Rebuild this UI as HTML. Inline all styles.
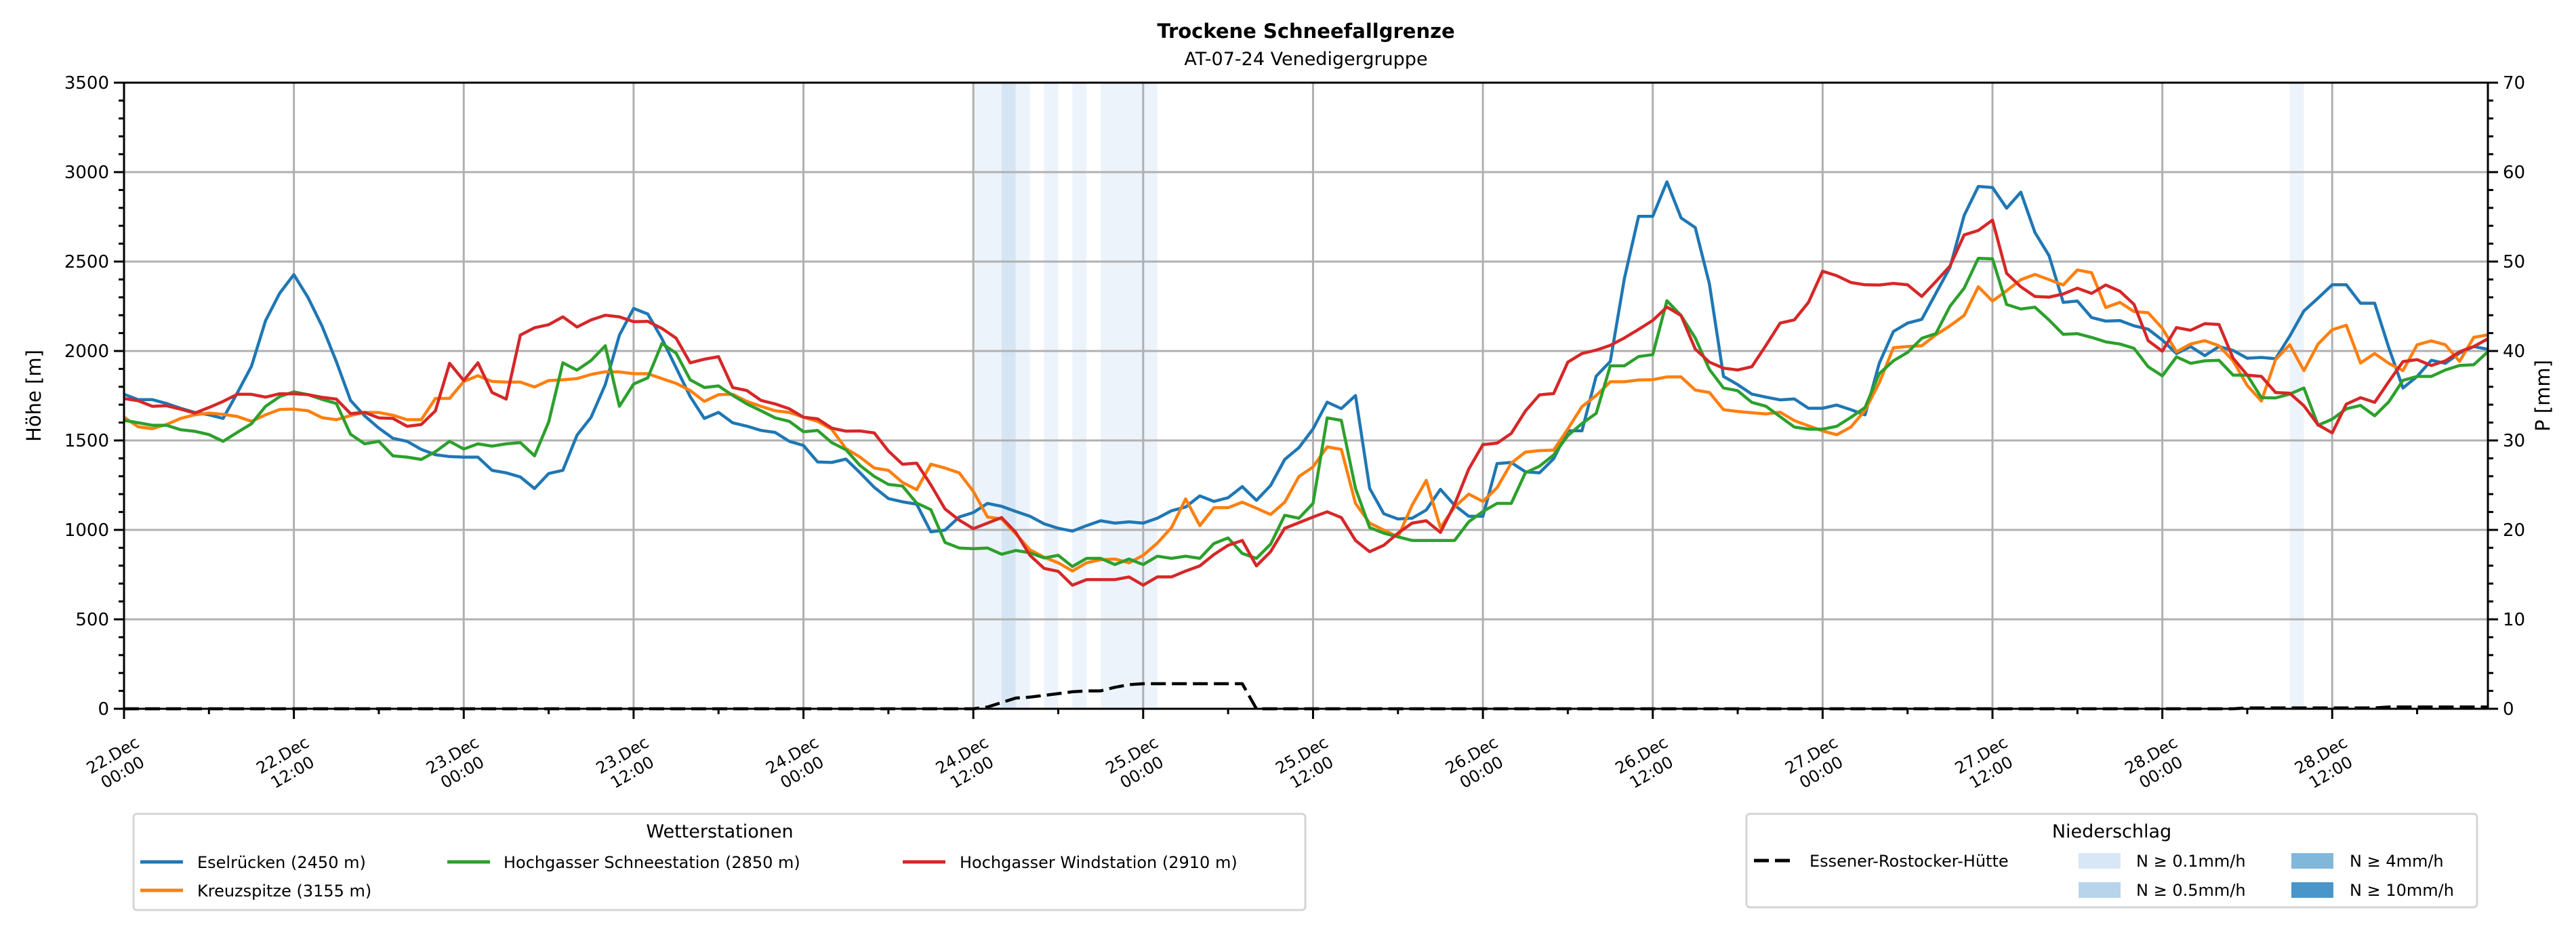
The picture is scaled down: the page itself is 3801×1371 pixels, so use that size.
<!DOCTYPE html>
<html><head><meta charset="utf-8"><style>
html,body{margin:0;padding:0;background:#fff;}
svg{display:block;font-family:"DejaVu Sans","Liberation Sans",sans-serif;}
</style></head><body>
<svg id="chart" width="3801" height="1371" viewBox="0 0 3801 1371" xmlns="http://www.w3.org/2000/svg">
<rect x="0" y="0" width="3801" height="1371" fill="#fff"/>
<text x="1927" y="56" text-anchor="middle" font-size="29" font-weight="bold">Trockene Schneefallgrenze</text>
<text x="1927" y="96" text-anchor="middle" font-size="27">AT-07-24 Venedigergruppe</text>
<g id="bands"></g>
<g id="grid"></g>
<g id="series"></g>
<g id="axes"></g>
<text transform="translate(60,584) rotate(-90)" text-anchor="middle" font-size="29">Höhe [m]</text>
<text transform="translate(3762,584) rotate(-90)" text-anchor="middle" font-size="29">P [mm]</text>

<g>
<rect x="197" y="1201" width="1729" height="142" rx="5" fill="#fff" stroke="#d5d5d5" stroke-width="3"/>
<text x="1062" y="1236" text-anchor="middle" font-size="27">Wetterstationen</text>
<g><line x1="207" y1="1272" x2="270" y2="1272" stroke="#1f77b4" stroke-width="5"/><text x="291" y="1281" font-size="24">Eselrücken (2450 m)</text></g>
<g><line x1="207" y1="1314" x2="270" y2="1314" stroke="#ff7f0e" stroke-width="5"/><text x="291" y="1323" font-size="24">Kreuzspitze (3155 m)</text></g>
<g><line x1="660" y1="1272" x2="723" y2="1272" stroke="#2ca02c" stroke-width="5"/><text x="743" y="1281" font-size="24">Hochgasser Schneestation (2850 m)</text></g>
<g><line x1="1332" y1="1272" x2="1395" y2="1272" stroke="#d62728" stroke-width="5"/><text x="1416" y="1281" font-size="24">Hochgasser Windstation (2910 m)</text></g>
</g>

<g>
<rect x="2577" y="1201" width="1078" height="138" rx="5" fill="#fff" stroke="#d5d5d5" stroke-width="3"/>
<text x="3116" y="1236" text-anchor="middle" font-size="27">Niederschlag</text>
<g><line x1="2588" y1="1270" x2="2645" y2="1270" stroke="#000" stroke-width="5" stroke-dasharray="22 9"/><text x="2670" y="1279" font-size="24">Essener-Rostocker-Hütte</text></g>
<g><rect x="3067" y="1259" width="62" height="23" fill="#d8e7f5"/><text x="3152" y="1279" font-size="24">N ≥ 0.1mm/h</text></g>
<g><rect x="3067" y="1302" width="62" height="23" fill="#b8d4ea"/><text x="3152" y="1322" font-size="24">N ≥ 0.5mm/h</text></g>
<g><rect x="3381" y="1259" width="62" height="23" fill="#82b7dc"/><text x="3467" y="1279" font-size="24">N ≥ 4mm/h</text></g>
<g><rect x="3381" y="1302" width="62" height="23" fill="#4a95c9"/><text x="3467" y="1322" font-size="24">N ≥ 10mm/h</text></g>
</g>
</svg>
<script>
var eselruecken = [1758,1728,1728,1707,1680,1657,1643,1623,1765,1914,2170,2323,2427,2299,2137,1941,1724,1637,1569,1512,1495,1450,1420,1410,1407,1407,1333,1319,1296,1231,1315,1333,1529,1630,1812,2089,2238,2207,2069,
1907,1745,1623,1657,1599,1580,1556,1545,1495,1472,1380,1377,1396,1319,1238,1175,1157,1144,
989,999,1072,1097,1148,1132,1103,1076,1034,1009,993,1024,1051,1038,1045,1038,1065,1107,1128,1190,1159,1180,1242,1165,1248,1394,1460,1564,1714,1678,1751,1232,1090,1061,1065,1111,1227,1138,1076,1076,1371,1377,1325,1319,1398,1554,1554,1859,1942,2406,2753,2753,2946,2744,2690,2375,
1858,1812,1759,1742,1727,1732,1680,1680,1698,1672,1643,1931,2109,2156,2177,2322,2467,2758,2920,2914,2798,2888,2663,2533,2272,2279,2187,2167,2170,2141,2122,2061,1986,2025,1974,2025,2003,1960,1964,1957,2083,2224,2296,2370,2370,2267,2267,2018,1793,1858,1948,1931,1989,2025,2010];
var kreuzspitze = [1630,1576,1566,1589,1623,1643,1653,1646,1634,1607,1643,1673,1675,1666,1627,1616,1639,1657,1656,1641,1616,1616,1735,1735,1830,1862,1830,1826,1826,1799,1835,1839,1846,1869,1884,1883,1873,1873,1846,1819,1779,1718,1756,1758,1718,1691,1666,1657,1630,1607,1562,1454,1407,1346,1333,1265,1225,
1367,1346,1319,1215,1072,1061,978,889,847,816,770,816,833,837,816,858,926,1013,1173,1024,1124,1124,1155,1121,1086,1155,1298,1352,1464,1450,1148,1038,999,961,1138,1277,1013,1128,1200,1159,1236,1373,1435,1443,1446,1564,1689,1751,1828,1828,1838,1840,1855,1855,1782,1768,
1672,1662,1655,1648,1658,1611,1582,1553,1532,1575,1669,1822,2018,2025,2029,2090,2141,2199,2359,2279,2337,2398,2428,2399,2369,2453,2438,2243,2272,2221,2214,2127,1996,2039,2058,2029,1945,1807,1720,1952,2035,1890,2039,2119,2144,1933,1986,1931,1890,2035,2057,2035,1942,2076,2090];
var schneestation = [1612,1599,1585,1585,1560,1551,1533,1495,1545,1593,1691,1745,1772,1756,1729,1707,1535,1481,1495,1414,1407,1394,1437,1495,1452,1481,1468,1481,1488,1414,1603,1934,1893,1947,2029,1691,1815,1850,2042,1988,1839,1796,1805,1752,1704,1666,1626,1607,1549,1556,1488,1448,1360,1299,1254,1245,1150,
1113,930,899,895,899,864,885,872,843,858,795,841,841,806,837,806,853,841,853,841,924,955,868,841,920,1082,1065,1148,1626,1612,1232,1013,982,961,941,941,941,941,1045,1103,1148,1148,1319,1356,1419,1527,1595,1651,1917,1917,1969,1980,2281,2198,2073,1897,
1793,1778,1713,1691,1633,1575,1563,1563,1579,1629,1684,1873,1945,1992,2071,2097,2250,2351,2518,2515,2260,2235,2245,2173,2093,2097,2076,2051,2039,2015,1912,1861,1967,1931,1945,1948,1865,1865,1739,1738,1759,1793,1585,1619,1677,1696,1638,1716,1836,1858,1858,1894,1919,1923,1996];
var windstation = [1734,1722,1691,1694,1675,1653,1684,1718,1758,1758,1742,1761,1761,1756,1741,1731,1650,1657,1626,1623,1579,1589,1666,1931,1835,1934,1768,1731,2089,2130,2147,2191,2134,2174,2200,2191,2164,2166,2126,2072,1934,1954,1968,1796,1779,1724,1704,1677,1630,1621,1569,1552,1553,1542,1441,1367,1373,
1252,1117,1055,1007,1038,1069,986,858,785,768,691,722,722,722,737,691,737,737,770,799,862,914,941,799,878,1009,1040,1072,1101,1069,941,878,914,982,1038,1051,986,1142,1340,1477,1485,1539,1664,1755,1762,1938,1986,2005,2032,2073,2121,2171,2246,2198,2011,1938,
1904,1894,1912,2032,2156,2174,2272,2446,2421,2383,2370,2369,2378,2370,2305,2388,2475,2649,2674,2732,2434,2359,2305,2301,2319,2351,2322,2369,2334,2261,2058,1999,2131,2116,2153,2148,1960,1865,1858,1768,1764,1694,1587,1542,1703,1739,1713,1829,1941,1952,1919,1945,1996,2025,2068];
var precipSum = [0,0,0,0,0,0,0,0,0,0, 0,0,0,0,0,0,0,0,0,0, 0,0,0,0,0,0,0,0,0,0, 0,0,0,0,0,0,0,0,0,0, 0,0,0,0,0,0,0,0,0,0, 0,0,0,0,0,0,0,0,0,0,
0,0.2,0.7,1.2,1.3,1.5,1.7,1.9,2.0,2.0, 2.4,2.7,2.8,2.8,2.8,2.8,2.8,2.8,2.8,2.8, 0,0,0,0,0,0,0,0,0,0, 0,0,0,0,0,0,0,0,0,0,
0,0,0,0,0,0,0,0,0,0, 0,0,0,0,0,0,0,0,0,0, 0,0,0,0,0,0,0,0,0,0, 0,0,0,0,0,0,0,0,0,0, 0,0,0,0,0,0,0,0,0,0,
0.1,0.1,0.1,0.1,0.1,0.1,0.1,0.1,0.1,0.1, 0.2,0.2,0.2,0.2,0.2,0.2,0.2,0.2];
var bandHours = [60,61,62,63,65,67,69,70,71,72,153];
var bandLevels = [1,1,2,1,1,1,1,1,1,1,1];
var yTicks = [0,500,1000,1500,2000,2500,3000,3500];
var y2Ticks = [0,10,20,30,40,50,60,70];
var xTickDays = ["22.Dec","22.Dec","23.Dec","23.Dec","24.Dec","24.Dec","25.Dec","25.Dec","26.Dec","26.Dec","27.Dec","27.Dec","28.Dec","28.Dec"];
var xTickTimes = ["00:00","12:00","00:00","12:00","00:00","12:00","00:00","12:00","00:00","12:00","00:00","12:00","00:00","12:00"];

var NS = "http://www.w3.org/2000/svg";
var L = 183, R = 3671, T = 122, B = 1046, HMAX = 167, YMAX = 3500, PMAX = 70;
function X(h){ return L + h * (R - L) / HMAX; }
function Y(v){ return B - v * (B - T) / YMAX; }
function Y2(p){ return B - p * (B - T) / PMAX; }
function mk(tag, attrs, parent){ var e = document.createElementNS(NS, tag); for (var k in attrs) e.setAttribute(k, attrs[k]); parent.appendChild(e); return e; }

var bands = document.getElementById('bands');
var bandColors = {1:"#edf3fa", 2:"#d6e5f3", 3:"#82b7dc", 4:"#4a95c9"};
bandHours.forEach(function(h, i){
  var r = mk('rect', {x: X(h), y: T, width: X(h+1) - X(h), height: B - T, fill: bandColors[bandLevels[i]]}, bands);
  
  
});

var grid = document.getElementById('grid');
yTicks.forEach(function(v){
  var l = mk('line', {x1: L, x2: R, y1: Y(v), y2: Y(v), stroke: "#b0b0b0", "stroke-width": 3}, grid);
  
  
});
xTickDays.forEach(function(d, i){
  var l = mk('line', {x1: X(i*12), x2: X(i*12), y1: T, y2: B, stroke: "#b0b0b0", "stroke-width": 3}, grid);
  
  
});

var series = document.getElementById('series');
function drawLine(arr, color, name, dash, scale){
  var pts = arr.map(function(v, h){ return X(h).toFixed(1) + "," + scale(v).toFixed(1); }).join(" ");
  var p = mk('polyline', {points: pts, fill: "none", stroke: color, "stroke-width": 4.5, "stroke-linejoin": "round"}, series);
  if (dash) p.setAttribute('stroke-dasharray', dash);
  
  
}
drawLine(eselruecken, "#1f77b4", "line-eselruecken", null, Y);
drawLine(kreuzspitze, "#ff7f0e", "line-kreuzspitze", null, Y);
drawLine(schneestation, "#2ca02c", "line-schneestation", null, Y);
drawLine(windstation, "#d62728", "line-windstation", null, Y);
drawLine(precipSum, "#000", "line-precip-sum", "22 9", Y2);

var axes = document.getElementById('axes');
mk('rect', {x: L, y: T, width: R - L, height: B - T, fill: "none", stroke: "#000", "stroke-width": 3}, axes);
for (var m = 0; m <= YMAX; m += 100) {
  var major = (m % 500 === 0);
  mk('line', {x1: L - (major ? 15 : 8), x2: L, y1: Y(m), y2: Y(m), stroke: "#000", "stroke-width": 3}, axes);
}
for (var q = 0; q <= PMAX; q += 2) {
  var maj2 = (q % 10 === 0);
  mk('line', {x1: R, x2: R + (maj2 ? 15 : 8), y1: Y2(q), y2: Y2(q), stroke: "#000", "stroke-width": 3}, axes);
}
for (var hh = 0; hh <= HMAX; hh += 6) {
  var mj = (hh % 12 === 0);
  mk('line', {x1: X(hh), x2: X(hh), y1: B, y2: B + (mj ? 15 : 8), stroke: "#000", "stroke-width": 3}, axes);
}
yTicks.forEach(function(v){
  var t = mk('text', {x: L - 22, y: Y(v) + 9, "text-anchor": "end", "font-size": 26}, axes);
  t.textContent = v;
  
  
});
y2Ticks.forEach(function(v){
  var t = mk('text', {x: R + 22, y: Y2(v) + 9, "text-anchor": "start", "font-size": 26}, axes);
  t.textContent = v;
  
  
});
xTickDays.forEach(function(d, i){
  var g = mk('g', {transform: "translate(" + (X(i*12) - 10) + ",1126) rotate(-30)"}, axes);
  
  
  var t1 = mk('text', {x: 0, y: -5, "text-anchor": "middle", "font-size": 24}, g);
  t1.textContent = d;
  var t2 = mk('text', {x: 0, y: 24, "text-anchor": "middle", "font-size": 24}, g);
  t2.textContent = xTickTimes[i];
});
</script>
</body></html>
